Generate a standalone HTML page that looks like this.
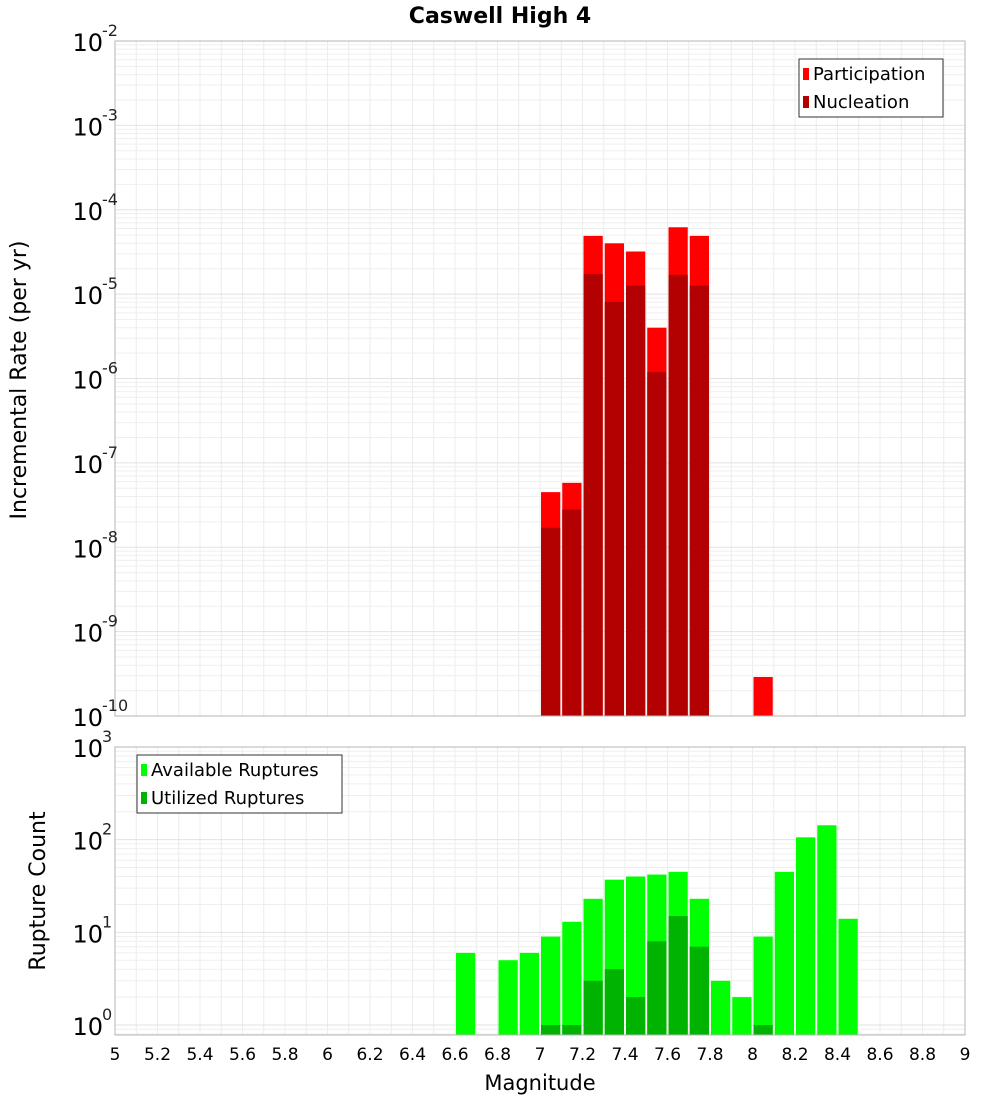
<!DOCTYPE html>
<html><head><meta charset="utf-8"><style>
body{margin:0;background:#fff}
svg text{font-family:"DejaVu Sans","Liberation Sans",sans-serif}
</style></head><body>
<svg id="c" width="1000" height="1100" xmlns="http://www.w3.org/2000/svg"></svg>
<script>
const mags=[7.05,7.15,7.25,7.35,7.45,7.55,7.65,7.75,8.05];
const participation=[4.5e-8,5.8e-8,4.9e-5,4.0e-5,3.2e-5,4.0e-6,6.2e-5,4.9e-5,2.9e-10];
const nucleation=[1.7e-8,2.8e-8,1.73e-5,8.1e-6,1.26e-5,1.19e-6,1.69e-5,1.26e-5,0];
const rupMags=[6.65,6.85,6.95,7.05,7.15,7.25,7.35,7.45,7.55,7.65,7.75,7.85,7.95,8.05,8.15,8.25,8.35,8.45];
const available=[6,5,6,9,13,23,37,40,42,45,23,3,2,9,45,106,143,14];
const utilized=[0,0,0,1,1,3,4,2,8,15,7,0,0,1,0,0,0,0];
const xTicks=[5,5.2,5.4,5.6,5.8,6,6.2,6.4,6.6,6.8,7,7.2,7.4,7.6,7.8,8,8.2,8.4,8.6,8.8,9];
const topExps=[-2,-3,-4,-5,-6,-7,-8,-9,-10];
const botExps=[3,2,1,0];

const NS='http://www.w3.org/2000/svg';
const svg=document.getElementById('c');
function el(t,a,p){const e=document.createElementNS(NS,t);for(const k in a)e.setAttribute(k,a[k]);(p||svg).appendChild(e);return e;}
const X0=115,X1=965;
const x=m=>X0+(m-5)/4*(X1-X0);
const T0=41,T1=716;const yTop=v=>T0+(-2-Math.log10(v))*(T1-T0)/8;
const B0=747,BY1=1025;const yBot=v=>BY1-Math.log10(v)*(BY1-B0)/3;
const B1=1035;

function grid(y0,y1,exps,yf,name){
  const g=el('g',{});
  for(let m=5;m<=9.001;m+=0.1){el('line',{x1:x(m),x2:x(m),y1:y0,y2:y1,stroke:'#ececec','stroke-width':1},g);}
  const lo=Math.min(...exps),hi=Math.max(...exps);
  for(let e=lo-1;e<=hi;e++)for(let k=1;k<10;k++){const v=k*Math.pow(10,e);const yy=yf(v);if(yy<y0-0.5||yy>y1+0.5)continue;
    el('line',{x1:X0,x2:X1,y1:yy,y2:yy,stroke:k==1?'#e2e2e2':'#efefef','stroke-width':1},g);}
}
grid(T0,T1,topExps,yTop,'top-grid');
grid(B0,B1,botExps,yBot,'bottom-grid');

// top bars
const tb=el('g',{});
const bw=(x(5.1)-x(5))-2;
mags.forEach((m,i)=>{
  const xl=x(m-0.05)+1;
  const r=el('rect',{x:xl,y:yTop(participation[i]),width:bw,height:T1-yTop(participation[i]),fill:'#ff0000'},tb);
  
  if(nucleation[i]>0){const n=el('rect',{x:xl,y:yTop(nucleation[i]),width:bw,height:T1-yTop(nucleation[i]),fill:'#b30000'},tb);
  }
});
const bb=el('g',{});
rupMags.forEach((m,i)=>{
  const xl=x(m-0.05)+1;
  const r=el('rect',{x:xl,y:yBot(available[i]),width:bw,height:B1-yBot(available[i]),fill:'#00ff00'},bb);
  
  if(utilized[i]>0){const n=el('rect',{x:xl,y:yBot(utilized[i]),width:bw,height:B1-yBot(utilized[i]),fill:'#00b300'},bb);
  }
});
// frames
let f=el('rect',{x:X0,y:T0,width:X1-X0,height:T1-T0,fill:'none',stroke:'#b4b4b4'});
f=el('rect',{x:X0,y:B0,width:X1-X0,height:B1-B0,fill:'none',stroke:'#b4b4b4'});

// y tick labels
function ylab(exps,yf,name){
  const g=el('g',{});
  exps.forEach(e=>{const yy=yf(Math.pow(10,e));
    const t=el('text',{x:103,y:yy+10,'text-anchor':'end','font-size':24,fill:'#000'},g);t.textContent='10';
    const s=el('text',{x:102,y:yy-5,'text-anchor':'start','font-size':16,fill:'#222'},g);s.textContent=String(e);
  });
}
ylab(topExps,yTop,'top-y-tick-labels');ylab(botExps,yBot,'bottom-y-tick-labels');
// x ticks
const xg=el('g',{});
xTicks.forEach(m=>{const t=el('text',{x:x(m),y:1060,'text-anchor':'middle','font-size':17,fill:'#000'},xg);t.textContent=String(m);});
let t=el('text',{x:540,y:1090,'text-anchor':'middle','font-size':21});t.textContent='Magnitude';
t=el('text',{x:500,y:23,'text-anchor':'middle','font-size':22,'font-weight':'bold'});t.textContent='Caswell High 4';
t=el('text',{x:0,y:0,'text-anchor':'middle','font-size':22,transform:'translate(26,380) rotate(-90)'});t.textContent='Incremental Rate (per yr)';
t=el('text',{x:0,y:0,'text-anchor':'middle','font-size':22,transform:'translate(45,891) rotate(-90)'});t.textContent='Rupture Count';

function legend(x0,y0,w,items,name){
  const g=el('g',{});
  el('rect',{x:x0,y:y0,width:w,height:58,fill:'#fff',stroke:'#333'},g);
  items.forEach((it,i)=>{const yy=y0+14+i*28;
    const s=el('rect',{x:x0+4,y:yy-5,width:6,height:12,fill:it[1]},g);
    const tt=el('text',{x:x0+14,y:yy+7,'font-size':18},g);tt.textContent=it[0];
    });
}
legend(799,59,144,[['Participation','#ff0000'],['Nucleation','#b30000']],'top-legend');
legend(137,755,205,[['Available Ruptures','#00ff00'],['Utilized Ruptures','#00b300']],'bottom-legend');
</script>
</body></html>
